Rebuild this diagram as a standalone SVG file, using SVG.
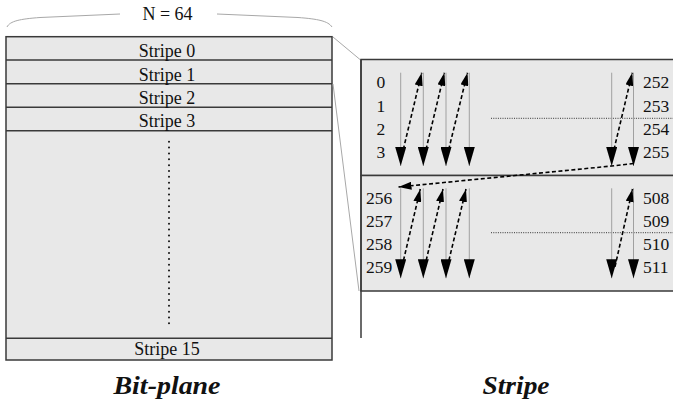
<svg xmlns="http://www.w3.org/2000/svg" width="673" height="403" viewBox="0 0 673 403">
<defs>
<style>
text{font-family:"Liberation Serif","Times New Roman",serif;fill:#111}
.lbl{font-size:18px;text-anchor:middle}
.num{font-size:17.5px}
.title{font-size:26px;font-weight:bold;font-style:italic;text-anchor:middle}
.box{fill:#e8e8e8;stroke:#3a3a3a;stroke-width:1.5}
.div{stroke:#3a3a3a;stroke-width:1.5;fill:none}
.guide{stroke:#a8a8a8;stroke-width:1;fill:none}
.col{stroke:#a0a0a0;stroke-width:1;fill:none;marker-end:url(#big)}
.dash{stroke:#000;stroke-width:1.6;stroke-dasharray:4 2.5;fill:none;marker-end:url(#small)}
.dots{stroke:#333;stroke-width:1;stroke-dasharray:1 1.3;fill:none}
</style>
<marker id="big" markerUnits="userSpaceOnUse" markerWidth="19" markerHeight="11" refX="19" refY="5.5" orient="auto" viewBox="0 0 19 11"><path d="M0,0 L19,5.5 L0,11 z" fill="#000"/></marker>
<marker id="small" markerUnits="userSpaceOnUse" markerWidth="13" markerHeight="8" refX="13" refY="4" orient="auto" viewBox="0 0 13 8"><path d="M0,0 L13,4 L0,8 z" fill="#000"/></marker>
</defs>
<rect width="673" height="403" fill="#fff"/>

<g id="width-label">
<path class="guide" d="M7,27 C10,21 20,19 40,17.5 L120,14"/>
<path class="guide" d="M217,14 L298,17.5 C318,19 328,21 332,27"/>
<text class="lbl" x="167.5" y="19.5">N = 64</text>
</g>

<g id="bitplane">
<rect class="box" x="6" y="36.7" width="326" height="323.3"/>
<line class="div" x1="6" y1="60" x2="332" y2="60"/>
<line class="div" x1="6" y1="83.7" x2="332" y2="83.7"/>
<line class="div" x1="6" y1="107.3" x2="332" y2="107.3"/>
<line class="div" x1="6" y1="130.7" x2="332" y2="130.7"/>
<line class="div" x1="6" y1="338.3" x2="332" y2="338.3"/>
<line x1="169" y1="141.7" x2="169" y2="323.5" stroke="#111" stroke-width="2" stroke-linecap="round" stroke-dasharray="0 5.86"/>
</g>
<g id="stripe0"><text class="lbl" x="167" y="57.3">Stripe 0</text></g>
<g id="stripe1"><text class="lbl" x="167" y="80.5">Stripe 1</text></g>
<g id="stripe2"><text class="lbl" x="167" y="104">Stripe 2</text></g>
<g id="stripe3"><text class="lbl" x="167" y="127.3">Stripe 3</text></g>
<g id="stripe15"><text class="lbl" x="167" y="355">Stripe 15</text></g>

<g id="stripe-panel">
<rect class="box" x="361" y="59.5" width="330" height="116"/>
<rect class="box" x="361" y="175.5" width="330" height="115.5"/>
<line class="div" x1="361" y1="59.5" x2="361" y2="338"/>
<line class="dots" x1="491" y1="118.3" x2="673" y2="118.3"/>
<line class="dots" x1="491" y1="232.7" x2="673" y2="232.7"/>
</g>

<g id="labels-top" class="num">
<text x="376.5" y="88.3">0</text>
<text x="376.5" y="111.6">1</text>
<text x="376.5" y="134.9">2</text>
<text x="376.5" y="158.2">3</text>
<text x="643" y="88.3">252</text>
<text x="643" y="111.6">253</text>
<text x="643" y="134.9">254</text>
<text x="643" y="158.2">255</text>
</g>
<g id="labels-bottom" class="num">
<text x="366" y="204.3">256</text>
<text x="366" y="227.2">257</text>
<text x="366" y="250.1">258</text>
<text x="366" y="272.5">259</text>
<text x="643" y="204.3">508</text>
<text x="643" y="227.2">509</text>
<text x="643" y="250.1">510</text>
<text x="643" y="272.5">511</text>
</g>

<g id="connectors">
<line class="guide" x1="333" y1="37" x2="360" y2="59.5"/>
<line class="guide" x1="333" y1="84" x2="359" y2="291"/>

<line class="col" x1="400.7" y1="72.7" x2="400.7" y2="166"/>
<line class="col" x1="423.3" y1="72.7" x2="423.3" y2="166"/>
<line class="col" x1="446" y1="72.7" x2="446" y2="166"/>
<line class="col" x1="469.3" y1="72.7" x2="469.3" y2="166"/>
<line class="col" x1="611.7" y1="72.7" x2="611.7" y2="166"/>
<line class="col" x1="633.5" y1="72.7" x2="633.5" y2="166"/>
<line class="dash" x1="403.3" y1="149.5" x2="421.7" y2="72.7"/>
<line class="dash" x1="426" y1="149.5" x2="444.4" y2="72.7"/>
<line class="dash" x1="448.7" y1="149.5" x2="467.5" y2="72.7"/>
<line class="dash" x1="614" y1="149.5" x2="632.3" y2="72.7"/>
<path class="dash" d="M633.5,163.5 L611.7,166 L398.5,187"/>

<line class="col" x1="400.7" y1="188.3" x2="400.7" y2="278.3"/>
<line class="col" x1="423.3" y1="188.3" x2="423.3" y2="278.3"/>
<line class="col" x1="446" y1="188.3" x2="446" y2="278.3"/>
<line class="col" x1="469.3" y1="188.3" x2="469.3" y2="278.3"/>
<line class="col" x1="611.7" y1="188.3" x2="611.7" y2="278.3"/>
<line class="col" x1="633.5" y1="188.3" x2="633.5" y2="278.3"/>
<line class="dash" x1="402" y1="266.7" x2="420.3" y2="189"/>
<line class="dash" x1="424.7" y1="266.7" x2="443" y2="189"/>
<line class="dash" x1="447.4" y1="266.7" x2="466" y2="189"/>
<line class="dash" x1="615" y1="266.7" x2="632.5" y2="189"/>
</g>

<g id="captions">
<text class="title" x="167" y="393.5" textLength="107" lengthAdjust="spacingAndGlyphs">Bit-plane</text>
<text class="title" x="516" y="393.5" textLength="67" lengthAdjust="spacingAndGlyphs">Stripe</text>
</g>
</svg>
